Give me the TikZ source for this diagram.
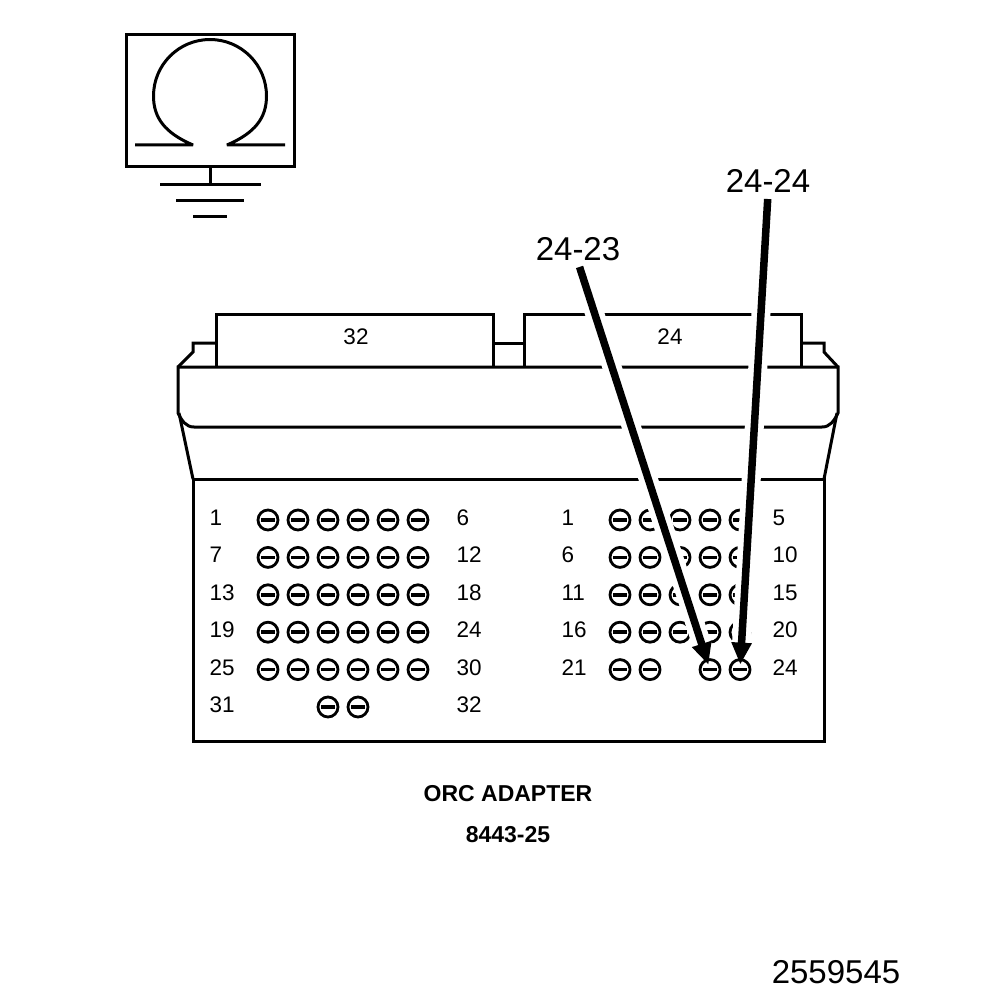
\documentclass[tikz,border=0pt]{standalone}
\usepackage{fontspec}
\setmainfont{Liberation Sans}
\usetikzlibrary{arrows.meta,positioning}

\begin{document}
\begin{tikzpicture}[x=1pt,y=-1pt,>={Triangle[length=22pt,width=19pt]},node distance=37.4pt and 30pt,on grid,line width=3pt,line join=miter]
\tikzset{hole/.style={circle,draw,line width=2.8pt,minimum size=20pt,inner sep=0pt,
	path picture={\draw[line width=3.5pt] ([xshift=3pt]path picture bounding box.west) -- ([xshift=-3pt]path picture bounding box.east);}}}
\tikzset{num/.style={anchor=west,inner sep=0pt,font=\fontsize{22.5}{26}\selectfont}}
\tikzset{plug/.style={inner sep=0pt,font=\fontsize{22.5}{26}\selectfont}}
\tikzset{callout/.style={inner sep=0pt,font=\fontsize{33}{38}\selectfont}}
\tikzset{caption/.style={inner sep=0pt,font=\fontsize{23}{27}\selectfont\bfseries}}
\tikzset{halo/.style={draw=white,line width=19pt,shorten <=5pt,shorten >=24pt}}
\tikzset{lead/.style={->,line width=7.5pt,shorten <=5pt,shorten >=5pt}}

\useasboundingbox (0,0) rectangle (1008,1000);

% meter symbol
\draw (126,35) rectangle (294,167);
\draw (210,167) -- (210,185);
\draw (160,185) -- (261,185);
\draw (176,201) -- (244,201);
\draw (193,217) -- (227,217);
\draw[line join=bevel] (135,145) -- (193,145) .. controls (165,133) and (153.5,118) .. (153.5,96) arc (180:360:56.5) .. controls (266.5,118) and (255,133) .. (227,145) -- (285,145);

% adapter body
\draw (216,367) -- (216,314) -- (493,314) -- (493,367);
\draw (524,367) -- (524,314) -- (801,314) -- (801,367);
\draw (216,343) -- (193,343) -- (193,352) -- (178,367);
\draw (493,343) -- (524,343);
\draw (801,343) -- (824,343) -- (824,352) -- (838,367);
\draw (178,367) -- (838,367) -- (838,413) .. controls (834,421) and (830,427) .. (822,427) -- (194,427) .. controls (186,427) and (182,421) .. (178,413) -- cycle;
\draw (179,413) -- (193,479);
\draw (837,413) -- (824,479);
\draw (193,479) rectangle (824,741);

\node[plug]	(p32)	at (356,337)	{32};
\node[plug]	(p24)	at (670,337)	{24};

\node[hole]	(a1)	at (268,520)	{};
\node[hole]	(a2)	[right =of a1]	{};
\node[hole]	(a3)	[right =of a2]	{};
\node[hole]	(a4)	[right =of a3]	{};
\node[hole]	(a5)	[right =of a4]	{};
\node[hole]	(a6)	[right =of a5]	{};
\node[hole]	(a7)	[below =of a1]	{};
\node[hole]	(a8)	[right =of a7]	{};
\node[hole]	(a9)	[right =of a8]	{};
\node[hole]	(a10)	[right =of a9]	{};
\node[hole]	(a11)	[right =of a10]	{};
\node[hole]	(a12)	[right =of a11]	{};
\node[hole]	(a13)	[below =of a7]	{};
\node[hole]	(a14)	[right =of a13]	{};
\node[hole]	(a15)	[right =of a14]	{};
\node[hole]	(a16)	[right =of a15]	{};
\node[hole]	(a17)	[right =of a16]	{};
\node[hole]	(a18)	[right =of a17]	{};
\node[hole]	(a19)	[below =of a13]	{};
\node[hole]	(a20)	[right =of a19]	{};
\node[hole]	(a21)	[right =of a20]	{};
\node[hole]	(a22)	[right =of a21]	{};
\node[hole]	(a23)	[right =of a22]	{};
\node[hole]	(a24)	[right =of a23]	{};
\node[hole]	(a25)	[below =of a19]	{};
\node[hole]	(a26)	[right =of a25]	{};
\node[hole]	(a27)	[right =of a26]	{};
\node[hole]	(a28)	[right =of a27]	{};
\node[hole]	(a29)	[right =of a28]	{};
\node[hole]	(a30)	[right =of a29]	{};
\node[hole]	(a31)	[below =of a27]	{};
\node[hole]	(a32)	[right =of a31]	{};

\node[hole]	(b1)	at (620,520)	{};
\node[hole]	(b2)	[right =of b1]	{};
\node[hole]	(b3)	[right =of b2]	{};
\node[hole]	(b4)	[right =of b3]	{};
\node[hole]	(b5)	[right =of b4]	{};
\node[hole]	(b6)	[below =of b1]	{};
\node[hole]	(b7)	[right =of b6]	{};
\node[hole]	(b8)	[right =of b7]	{};
\node[hole]	(b9)	[right =of b8]	{};
\node[hole]	(b10)	[right =of b9]	{};
\node[hole]	(b11)	[below =of b6]	{};
\node[hole]	(b12)	[right =of b11]	{};
\node[hole]	(b13)	[right =of b12]	{};
\node[hole]	(b14)	[right =of b13]	{};
\node[hole]	(b15)	[right =of b14]	{};
\node[hole]	(b16)	[below =of b11]	{};
\node[hole]	(b17)	[right =of b16]	{};
\node[hole]	(b18)	[right =of b17]	{};
\node[hole]	(b19)	[right =of b18]	{};
\node[hole]	(b20)	[right =of b19]	{};
\node[hole]	(b21)	[below =of b16]	{};
\node[hole]	(b22)	[right =of b21]	{};
\node[hole]	(b23)	[below =of b19]	{};
\node[hole]	(b24)	[below =of b20]	{};

\node[num]	(n1)	at (208,518)	{1};
\node[num]	(n7)	at (208,555)	{7};
\node[num]	(n13)	at (208,593)	{13};
\node[num]	(n19)	at (208,630)	{19};
\node[num]	(n25)	at (208,668)	{25};
\node[num]	(n31)	at (208,705)	{31};
\node[num]	(n6)	at (455,518)	{6};
\node[num]	(n12)	at (455,555)	{12};
\node[num]	(n18)	at (455,593)	{18};
\node[num]	(n24)	at (455,630)	{24};
\node[num]	(n30)	at (455,668)	{30};
\node[num]	(n32)	at (455,705)	{32};

\node[num]	(m1)	at (560,518)	{1};
\node[num]	(m6)	at (560,555)	{6};
\node[num]	(m11)	at (560,593)	{11};
\node[num]	(m16)	at (560,630)	{16};
\node[num]	(m21)	at (560,668)	{21};
\node[num]	(m5)	at (771,518)	{5};
\node[num]	(m10)	at (771,555)	{10};
\node[num]	(m15)	at (771,593)	{15};
\node[num]	(m20)	at (771,630)	{20};
\node[num]	(m24)	at (771,668)	{24};

\node[callout]	(c23)	at (578,249)	{24-23};
\node[callout]	(c24)	at (768,181)	{24-24};

\path[halo]	(c23.south) -- (b23.center);
\path[halo]	(c24.south) -- (b24.center);
\draw[lead]	(c23.south) -- (b23.center);
\draw[lead]	(c24.south) -- (b24.center);

\node[caption]	(title)	at (508,794)	{ORC ADAPTER};
\node[caption]	(part)	at (508,835)	{8443-25};
\node[callout]	(fig)	at (836,972)	{2559545};
\end{tikzpicture}
\end{document}
